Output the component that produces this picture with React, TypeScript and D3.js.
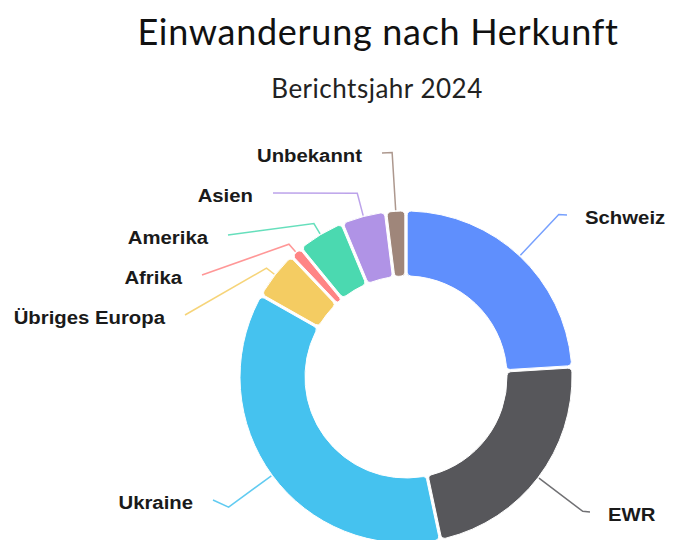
import React from "react";
import * as d3 from "d3";

const categories = ["Schweiz", "EWR", "Ukraine", "Übriges Europa", "Afrika", "Amerika", "Asien", "Unbekannt"];
const values = [24.2, 22.8, 36.9, 4.6, 1.0, 4.5, 4.2, 1.8];
const colors = ["#5f8ffd", "#57575b", "#45c2ef", "#f4cc62", "#ff8585", "#4bd9b0", "#b093e6", "#9f867a"];

// label layout (relative to chart centre): elbow radius and end point of the leader line
const elbowRadius = [223, 222, 220, 177, 177, 179, 190, 225];
const labelEndX = [161, 184, -193, -221, -204, -178, -133, -24];
const labelEndY = [-162, 135, 123, -62, -102, -142, -184, -224];

const W = 678;
const H = 540;
const cx = 406;
const cy = 377;
const outerR = 166;
const innerR = 101;

export default function App() {
  const data = categories.map((c, i) => ({ name: c, value: values[i], color: colors[i], i }));
  const pie = d3
    .pie<any>()
    .value((d: any) => d.value)
    .sort(null)
    .startAngle(0)
    .endAngle(2 * Math.PI)
    .padAngle(0.012);
  const arcs = pie(data);
  const arc = d3.arc<any>().innerRadius(innerR).outerRadius(outerR).cornerRadius(4);

  const pt = (a: number, r: number) => [Math.sin(a) * r, -Math.cos(a) * r];

  return (
    <svg width={W} height={H} style={{ position: "absolute", left: 0, top: 0, background: "#fff" }}>
      <text x={378} y={45} textAnchor="middle" fontFamily="Lato, 'Open Sans', sans-serif" fontSize={36} letterSpacing={0.7} fill="#111">
        Einwanderung nach Herkunft
      </text>
      <text x={377} y={98} textAnchor="middle" fontFamily="Lato, 'Open Sans', sans-serif" fontSize={26} letterSpacing={0.5} fill="#222">
        Berichtsjahr 2024
      </text>
      <g transform={`translate(${cx},${cy})`}>
        {arcs.map((a: any) => (
          <path key={a.data.name} d={arc(a) as string} fill={a.data.color} stroke="#fff" strokeWidth={1} />
        ))}
        {arcs.map((a: any) => {
          const i = a.data.i;
          const mid = (a.startAngle + a.endAngle) / 2;
          const p0 = pt(mid, outerR + 1);
          const p1 = pt(mid, elbowRadius[i]);
          const ex = labelEndX[i];
          const ey = labelEndY[i];
          const right = ex > 0;
          const tx = right ? ex + 18 : ex - 20;
          return (
            <g key={"l" + a.data.name}>
              <polyline
                points={`${p0[0]},${p0[1]} ${p1[0]},${p1[1]} ${ex},${ey}`}
                fill="none"
                stroke={a.data.color}
                strokeOpacity={0.85}
                strokeWidth={1.5}
              />
              <text
                transform={`translate(${tx},${ey + 3}) scale(1.13,1)`}
                dy="0.35em"
                textAnchor={right ? "start" : "end"}
                fontFamily="'Liberation Sans', Arial, sans-serif"
                fontWeight="bold"
                fontSize={18}
                fill="#1a1a1a"
              >
                {a.data.name}
              </text>
            </g>
          );
        })}
      </g>
    </svg>
  );
}
